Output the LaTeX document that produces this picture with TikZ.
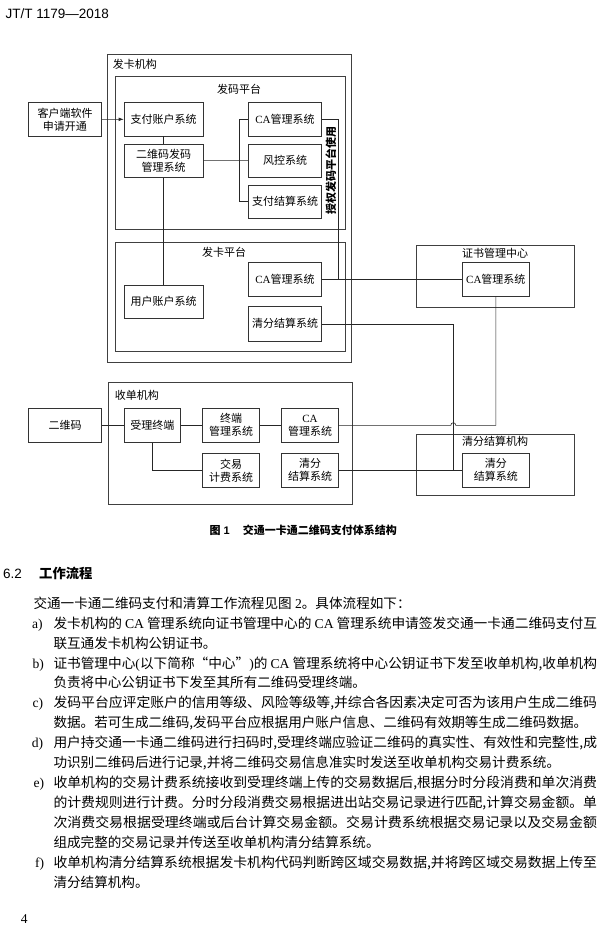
\documentclass[tikz,border=0pt]{standalone}
\usepackage{fontspec}
\usepackage{graphicx}
\setmainfont{Liberation Serif}
\newfontfamily\cjk{Noto Sans CJK SC}
\newfontfamily\lat{Liberation Serif}
\newfontfamily\hei{Liberation Sans}
\usetikzlibrary{arrows.meta}
\newcommand\CA{{\lat CA}}
\newcommand\jline[1]{\resizebox{543.5pt}{\height}{#1}}
\newcommand\dfont{\cjk\fontsize{11}{13}\selectfont}
\newcommand\bfont{\cjk\fontsize{13.59}{20}\selectfont}
\newcommand\lfont{\lat\fontsize{13.59}{20}\selectfont}
\begin{document}
\begin{tikzpicture}[x=1pt,y=-1pt,
  box/.style={draw=black!80, line width=0.65pt, inner sep=0pt, minimum width=#1,
    minimum height=33.3pt, align=center, font=\dfont},
  box/.default=73.4pt,
  frame/.style={draw=black!75, line width=0.65pt},
  conn/.style={draw=black!85, line width=0.6pt},
  lbl/.style={inner sep=0pt, font=\dfont},
  txt/.style={inner sep=0pt, anchor=base west, font=\bfont},
  itm/.style={inner sep=0pt, anchor=base west, font=\lfont}]
\fill[white] (0,0) rectangle (600,941);
\useasboundingbox (0,0) rectangle (600,941);

% header
\node[inner sep=0pt, anchor=base west, font=\hei\fontsize{13.5}{16}\selectfont] (hdr) at (5.5,18.2) {JT/T 1179—2018};

% frames
\draw[frame] (107.3,54) rectangle (351.7,362.7);
\draw[frame] (115.3,76.7) rectangle (345.3,229.3);
\draw[frame] (115.3,242.7) rectangle (345.3,351.7);
\draw[frame] (416.7,245.7) rectangle (574.3,307.3);
\draw[frame] (108.3,382.3) rectangle (352.7,504.3);
\draw[frame] (416.7,434.3) rectangle (574.3,495.7);

% frame labels
\node[lbl, anchor=west] (l1) at (112.7,64.3) {发卡机构};
\node[lbl] (l2) at (239,89) {发码平台};
\node[lbl] (l3) at (224,252.7) {发卡平台};
\node[lbl, anchor=west] (l4) at (114.7,395) {收单机构};
\node[lbl] (l5) at (495,253) {证书管理中心};
\node[lbl] (l6) at (495,441.7) {清分结算机构};
\node[lbl, rotate=90, font=\dfont\bfseries] (l7) at (330.8,170.5) {授权发码平台使用};

% boxes
\node[box, minimum height=33.4pt] (kehu) at (65,119.4) {客户端软件\\申请开通};
\node[box=79.3pt] (zhifu) at (163.7,119.3) {支付账户系统};
\node[box=79.3pt] (erwei) at (163.7,160.7) {二维码发码\\管理系统};
\node[box] (ca1) at (285,119.3) {\CA 管理系统};
\node[box] (fk) at (285,160.5) {风控系统};
\node[box] (zfjs) at (285,201.7) {支付结算系统};
\node[box=79.3pt] (yh) at (163.7,301.7) {用户账户系统};
\node[box] (ca2) at (285,279.3) {\CA 管理系统};
\node[box, minimum height=34.3pt] (qf1) at (285,323.8) {清分结算系统};
\node[box=67pt] (ca3) at (495.8,279.3) {\CA 管理系统};
\node[box, minimum height=34pt] (qr) at (65,425.3) {二维码};
\node[box=56.7pt, minimum height=34pt] (sl) at (152.3,425.3) {受理终端};
\node[box=56.7pt, minimum height=34pt] (zd) at (231,425.3) {终端\\管理系统};
\node[box=56.7pt, minimum height=34pt] (ca4) at (310,425.3) {\CA\\管理系统};
\node[box=56.7pt, minimum height=34pt] (jy) at (231,470.3) {交易\\计费系统};
\node[box=56.7pt, minimum height=34pt] (qf2) at (310,470.3) {清分\\结算系统};
\node[box=67pt] (qf3) at (495.8,470.3) {清分\\结算系统};

% connectors
\coordinate (br) at (239.3,0);
\coordinate (j1) at (337.9,0);
\coordinate (j2) at (453.3,0);
\draw[conn, -{Latex[length=5pt,width=3.6pt]}] (kehu.east) -- (zhifu.west);
\draw[conn] (zhifu) -- (erwei);
\draw[conn] (erwei) -- (fk);
\draw[conn] (ca1.west) -- (br |- ca1.west) -- (br |- zfjs.west) -- (zfjs.west);
\draw[conn] (ca1.east) -- (j1 |- ca1.east) -- (j1 |- ca2.east);
\draw[conn] (ca2) -- (ca3);
\draw[conn] (erwei) -- (yh);
\draw[conn] (qf1.east) -- (j2 |- qf1.east) -- (j2 |- qf2.east);
\draw[conn] (ca3.south) -- (ca3.south |- ca4.east) -- ([xshift=2.5pt]j2 |- ca4.east)
  .. controls +(0,-3.4) and +(0,-3.4) .. ([xshift=-2.5pt]j2 |- ca4.east) -- (ca4.east);
\draw[conn] (qr) -- (sl);
\draw[conn] (sl) -- (zd);
\draw[conn] (zd) -- (ca4);
\draw[conn] (qf2) -- (qf3);
\draw[conn] (sl.south) |- (jy.west);

% caption
\node[inner sep=0pt, anchor=base east, font=\cjk\bfseries\fontsize{11}{13}\selectfont] (cap) at (397,534.2)
  {图\hspace{3pt}{\hei\bfseries 1}\hspace{13pt}交通一卡通二维码支付体系结构};

% section
\node[inner sep=0pt, anchor=base west, font=\hei\fontsize{13.5}{16}\selectfont] (sec) at (3,578) {6.2};
\node[inner sep=0pt, anchor=base west, font=\cjk\bfseries\fontsize{13.3}{16}\selectfont] (sect) at (39,578) {工作流程};

% body
\node[txt] (p0) at (33.3,608.2) {交通一卡通二维码支付和清算工作流程见图{\lat\ 2}。具体流程如下：};
\node[itm] (ia) at (32,628.1) {a)};
\node[txt] (a1) at (53.3,628.1) {\jline{发卡机构的 \CA{} 管理系统向证书管理中心的 \CA{} 管理系统申请签发交通一卡通二维码支付互}};
\node[txt] (a2) at (53.3,648.1) {联互通发卡机构公钥证书。};
\node[itm] (ib) at (32.3,668) {b)};
\node[txt] (b1) at (53.3,668) {\jline{证书管理中心{\lat (}以下简称“中心”{\lat )}的 \CA{} 管理系统将中心公钥证书下发至收单机构,收单机构}};
\node[txt] (b2) at (53.3,687.9) {负责将中心公钥证书下发至其所有二维码受理终端。};
\node[itm] (ic) at (32.3,707.9) {c)};
\node[txt] (c1) at (53.3,707.9) {\jline{发码平台应评定账户的信用等级、风险等级等,并综合各因素决定可否为该用户生成二维码}};
\node[txt] (c2) at (53.3,727.8) {数据。若可生成二维码,发码平台应根据用户账户信息、二维码有效期等生成二维码数据。};
\node[itm] (id) at (31.7,747.7) {d)};
\node[txt] (d1) at (53.3,747.7) {\jline{用户持交通一卡通二维码进行扫码时,受理终端应验证二维码的真实性、有效性和完整性,成}};
\node[txt] (d2) at (53.3,767.6) {功识别二维码后进行记录,并将二维码交易信息准实时发送至收单机构交易计费系统。};
\node[itm] (ie) at (33.3,787.6) {e)};
\node[txt] (e1) at (53.3,787.6) {\jline{收单机构的交易计费系统接收到受理终端上传的交易数据后,根据分时分段消费和单次消费}};
\node[txt] (e2) at (53.3,807.5) {\jline{的计费规则进行计费。分时分段消费交易根据进出站交易记录进行匹配,计算交易金额。单}};
\node[txt] (e3) at (53.3,827.4) {\jline{次消费交易根据受理终端或后台计算交易金额。交易计费系统根据交易记录以及交易金额}};
\node[txt] (e4) at (53.3,847.4) {组成完整的交易记录并传送至收单机构清分结算系统。};
\node[itm] (if) at (35,867.3) {f)};
\node[txt] (f1) at (53.3,867.3) {\jline{收单机构清分结算系统根据发卡机构代码判断跨区域交易数据,并将跨区域交易数据上传至}};
\node[txt] (f2) at (53.3,887.2) {清分结算机构。};

% page number
\node[inner sep=0pt, anchor=base west, font=\lat\fontsize{13.5}{16}\selectfont] (pg) at (20.7,923.5) {4};
\end{tikzpicture}
\end{document}
